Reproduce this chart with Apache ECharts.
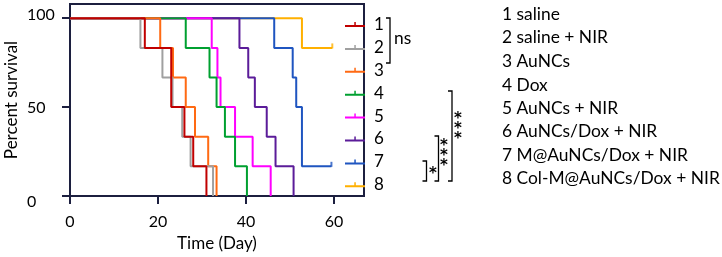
<!DOCTYPE html>
<html><head><meta charset="utf-8">
<script src="https://cdn.jsdelivr.net/npm/echarts@6/dist/echarts.min.js"></script>
<style>html,body{margin:0;padding:0;background:#fff}#c{width:722px;height:257px}</style>
</head><body><div id="c"></div>
<script>
// ---- data ----
const groupNames = ['1 saline','2 saline + NIR','3 AuNCs','4 Dox','5 AuNCs + NIR','6 AuNCs/Dox + NIR','7 M@AuNCs/Dox + NIR','8 Col-M@AuNCs/Dox + NIR'];
const groupNums = ['1','2','3','4','5','6','7','8'];
const colors = ['#c00000','#a0a0a0','#ff6a13','#00a030','#ff00ff','#5b1c99','#1f55c0','#ffb000'];
const t1 = [0,17,23,26,28,31];            const s1 = [100,83.3,50,33.3,16.7,0];
const t2 = [0,16,21,23.3,25.5,27.4,32.5]; const s2 = [100,83.3,66.7,50,33.3,16.7,0];
const t3 = [0,20.5,23.4,26.3,28.4,31.4,33.3]; const s3 = [100,83.3,66.7,50,33.3,16.7,0];
const t4 = [0,26.3,31.7,33.3,35.2,37.5,40.2]; const s4 = [100,83.3,66.7,50,33.3,16.7,0];
const t5 = [0,32.2,33.5,34.2,37.5,41.5,45.6]; const s5 = [100,83.3,66.7,50,33.3,16.7,0];
const t6 = [0,38.5,40.5,42,44.7,46.7,50.8];   const s6 = [100,83.3,66.7,50,33.3,16.7,0];
const t7 = [0,46.4,50.6,51.4,52.7,59.4];      const s7 = [100,83.3,66.7,50,16.7,16.7];
const t8 = [0,52.7,59.6];                      const s8 = [100,83.3,83.3];
const censorT = [59.4, 59.6];
const censorS = [16.7, 83.3];
const censorGroup = [6, 7];
const xTicks = [0,20,40,60];
const yTicks = [0,50,100];
// -------------
const times = [t1,t2,t3,t4,t5,t6,t7,t8];
const surv = [s1,s2,s3,s4,s5,s6,s7,s8];
const FONT = 'Lato';
const dark = '#1c1f3f';
const series = groupNames.map((n,i)=>({
  name:n, type:'line', step:'end', showSymbol:false, symbol:'none',
  z: 20 - i, silent:true,
  lineStyle:{color:colors[i], width:2}, itemStyle:{color:colors[i]},
  data: times[i].map((t,k)=>[t, surv[i][k]])
}));
censorT.forEach((t,k)=>{
  series.push({type:'scatter', silent:true, z:30, symbol:'rect', symbolSize:[2,5], symbolOffset:[0,-2],
    itemStyle:{color:colors[censorGroup[k]]}, data:[[t, censorS[k]]]});
});
const rowY = [14,37.3,61,85,108,131.5,155,178.5];
const graphics = [];
groupNames.forEach((n,i)=>{
  graphics.push({type:'text', x:502, y:rowY[i], style:{text:n, font:'17.4px '+FONT, fill:'#000', verticalAlign:'middle'}});
});
function bracket(x, y1, y2){
  return {type:'polyline', shape:{points:[[x-4,y1],[x,y1],[x,y2],[x-4,y2]]}, style:{stroke:'#000', lineWidth:1.3, fill:null}};
}
graphics.push(bracket(390,18,63));
graphics.push({type:'text', x:394, y:38, style:{text:'ns', font:'17.4px '+FONT, fill:'#000', verticalAlign:'middle'}});
graphics.push(bracket(452,91,181));
graphics.push(bracket(438.5,136,181));
graphics.push(bracket(426.5,161,181));
function stars(x, ys){ ys.forEach(y=>graphics.push({type:'text', x:x, y:y+4, style:{text:'*', font:'bold 15px "DejaVu Sans"', fill:'#000', align:'center', verticalAlign:'middle'}})); }
stars(458,[115,125,135]);
stars(444,[142.5,152.5,162.5]);
stars(433,[170]);

const chart = echarts.init(document.getElementById('c'), null, {renderer:'canvas'});
chart.setOption({
  animation:false,
  grid:{left:70, right:358, top:4, bottom:60, show:true, borderColor:dark, borderWidth:2, backgroundColor:'transparent'},
  xAxis:{type:'value', min:0, max:66.8, name:'Time (Day)', nameLocation:'middle', nameGap:39,
    nameTextStyle:{fontFamily:FONT, fontSize:17, color:'#000'},
    axisLine:{show:true, lineStyle:{color:dark, width:2}},
    axisTick:{show:true, customValues:xTicks, length:8, lineStyle:{color:dark, width:2}},
    axisLabel:{customValues:xTicks, fontFamily:FONT, fontSize:16, color:'#000', margin:18},
    splitLine:{show:false}},
  yAxis:{type:'value', min:0, max:108, name:'Percent survival', nameLocation:'middle', nameGap:50,
    nameTextStyle:{fontFamily:FONT, fontSize:17, color:'#000'},
    axisLine:{show:true, lineStyle:{color:dark, width:2}},
    axisTick:{show:true, customValues:yTicks, length:8, lineStyle:{color:dark, width:2}},
    axisLabel:{customValues:yTicks, fontFamily:FONT, fontSize:16, color:'#000', margin:43, align:'left',
      formatter:(v)=> v===0 ? '{lo|0}' : (v===100 ? '{hi|100}' : '{md|' + v + '}'),
      rich:{lo:{fontFamily:FONT, fontSize:16, padding:[12,0,0,0]}, hi:{fontFamily:FONT, fontSize:16, padding:[0,0,6,0]}, md:{fontFamily:FONT, fontSize:16, padding:[2,0,0,0]}}},
    splitLine:{show:false}},
  legend:{orient:'vertical', left:340, top:9, itemWidth:20, itemHeight:5, itemGap:1.9,
    icon:'path://M0,3h20v2h-20z M9.3,0h1.5v3h-1.5z',
    data:groupNames, selectedMode:false,
    formatter:(n)=>groupNums[groupNames.indexOf(n)],
    textStyle:{fontFamily:FONT, fontSize:17, color:'#000', lineHeight:20, padding:[0,0,1,4]}},
  graphic:graphics,
  series:series
});
</script></body></html>
